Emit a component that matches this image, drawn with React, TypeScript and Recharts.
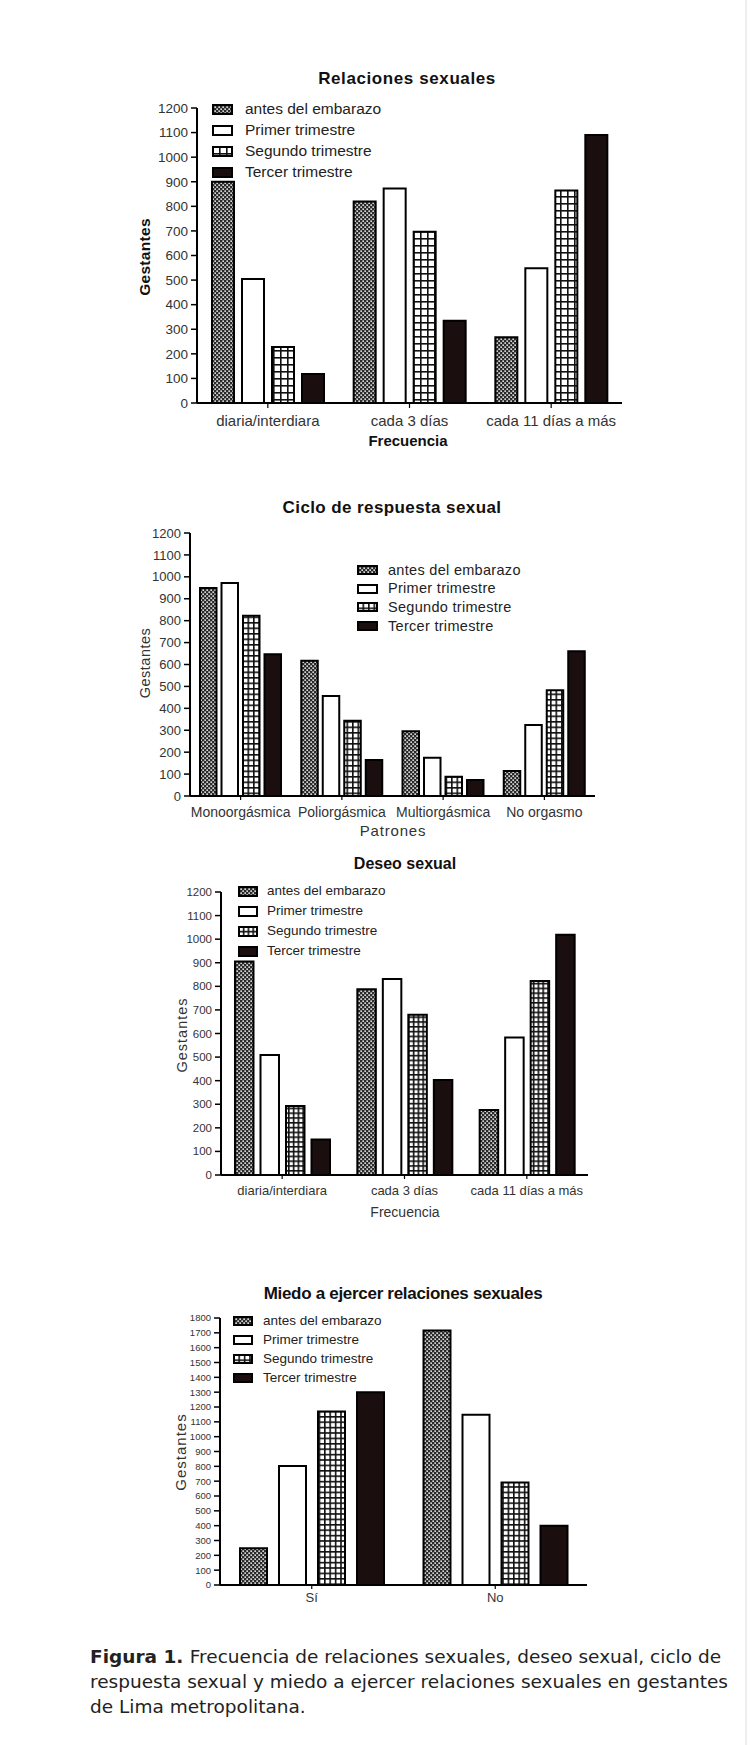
import React from 'react';
import { BarChart, Bar, XAxis, YAxis, Legend } from 'recharts';

const FONT = '"Liberation Sans", Arial, sans-serif';

const SERIES_KEYS = ['antes', 'primer', 'segundo', 'tercer'];
const SERIES_NAMES = ['antes del embarazo', 'Primer trimestre', 'Segundo trimestre', 'Tercer trimestre'];

const CATS_FRECUENCIA = ['diaria/interdiara', 'cada 3 días', 'cada 11 días a más'];
const CATS_PATRONES = ['Monoorgásmica', 'Poliorgásmica', 'Multiorgásmica', 'No orgasmo'];
const CATS_MIEDO = ['Sí', 'No'];

const TICKS_1200 = [0, 100, 200, 300, 400, 500, 600, 700, 800, 900, 1000, 1100, 1200];
const TICKS_1800 = [0, 100, 200, 300, 400, 500, 600, 700, 800, 900, 1000, 1100, 1200, 1300, 1400, 1500, 1600, 1700, 1800];

// Relaciones sexuales
const REL_ANTES = [900, 820, 267];
const REL_PRIMER = [504, 873, 548];
const REL_SEGUNDO = [228, 697, 864];
const REL_TERCER = [118, 335, 1090];

// Ciclo de respuesta sexual
const CIC_ANTES = [949, 617, 296, 114];
const CIC_PRIMER = [972, 456, 175, 324];
const CIC_SEGUNDO = [823, 343, 88, 483];
const CIC_TERCER = [647, 164, 73, 661];

// Deseo sexual
const DES_ANTES = [905, 788, 276];
const DES_PRIMER = [509, 831, 583];
const DES_SEGUNDO = [293, 679, 823];
const DES_TERCER = [151, 403, 1019];

// Miedo a ejercer relaciones sexuales
const MIE_ANTES = [248, 1715];
const MIE_PRIMER = [803, 1148];
const MIE_SEGUNDO = [1170, 691];
const MIE_TERCER = [1299, 400];

const CAPTION_LINES = [
  'Frecuencia de relaciones sexuales, deseo sexual, ciclo de',
  'respuesta sexual y miedo a ejercer relaciones sexuales en gestantes',
  'de Lima metropolitana.',
];

function rows(cats: string[], a: number[], b: number[], c: number[], d: number[]) {
  return cats.map((cat, i) => ({ cat, antes: a[i], primer: b[i], segundo: c[i], tercer: d[i] }));
}

function fillFor(key: string, id: string) {
  if (key === 'antes') return `url(#${id}-dots)`;
  if (key === 'segundo') return `url(#${id}-grid)`;
  if (key === 'tercer') return '#1a0e0e';
  return '#fff';
}

type TextCfg = { text: string; x: number; y: number; size: number; weight?: number; ls?: number };

type PanelCfg = {
  id: string;
  plotTop: number;
  plotBottom: number;
  plotLeft: number;
  plotRight: number;
  yMax: number;
  ticks: number[];
  yFont: number;
  barSize: number;
  barGap: number;
  grid: number;
  xFont: number;
  xTickSize: number;
  xTickMargin: number;
  title: TextCfg;
  yTitle: TextCfg;
  xTitle?: TextCfg;
  legX: number;
  legY: number;
  legRow: number;
  swW: number;
  swH: number;
  legGap: number;
  legFont: number;
  legLs?: number;
};

function Label({ t, rotate }: { t: TextCfg; rotate?: boolean }) {
  return (
    <div
      style={{
        position: 'absolute',
        left: t.x,
        top: t.y,
        transform: `translate(-50%, -50%)${rotate ? ' rotate(-90deg)' : ''}`,
        whiteSpace: 'nowrap',
        fontFamily: FONT,
        fontSize: t.size,
        fontWeight: t.weight ?? 400,
        letterSpacing: t.ls ?? 0,
        color: t.weight === 700 ? '#111' : '#333',
        lineHeight: 1,
      }}
    >
      {t.text}
    </div>
  );
}

function LegendBox({ cfg }: { cfg: PanelCfg }) {
  return (
    <div style={{ fontFamily: FONT }}>
      {SERIES_KEYS.map((k, i) => (
        <div key={k} style={{ display: 'flex', alignItems: 'center', height: cfg.legRow }}>
          <svg width={cfg.swW} height={cfg.swH} style={{ display: 'block' }}>
            <rect x={1} y={1} width={cfg.swW - 2} height={cfg.swH - 2} fill={fillFor(k, cfg.id)} stroke="#000" strokeWidth={2} />
          </svg>
          <span
            style={{
              marginLeft: cfg.legGap,
              fontSize: cfg.legFont,
              letterSpacing: cfg.legLs ?? 0,
              color: '#222',
              whiteSpace: 'nowrap',
              lineHeight: 1,
            }}
          >
            {SERIES_NAMES[i]}
          </span>
        </div>
      ))}
    </div>
  );
}

function Panel({ cfg, data }: { cfg: PanelCfg; data: any[] }) {
  const top = cfg.plotTop - 10;
  const height = cfg.plotBottom - cfg.plotTop + 50;
  const yw = 50;
  const g = cfg.grid;
  return (
    <>
      <div style={{ position: 'absolute', left: 0, top }}>
        <BarChart
          width={751}
          height={height}
          data={data}
          margin={{ top: 10, bottom: 10, left: cfg.plotLeft - yw, right: 751 - cfg.plotRight }}
          barGap={cfg.barGap}
          barSize={cfg.barSize}
          style={{ fontFamily: FONT }}
        >
          <defs>
            <pattern id={`${cfg.id}-dots`} width={4} height={4} patternUnits="userSpaceOnUse">
              <rect width={4} height={4} fill="#2a2a2a" />
              <rect x={0.4} y={0.4} width={1.5} height={1.5} fill="#fff" />
              <rect x={2.4} y={2.4} width={1.5} height={1.5} fill="#fff" />
            </pattern>
            <pattern id={`${cfg.id}-grid`} width={g} height={g} patternUnits="userSpaceOnUse">
              <rect width={g} height={g} fill="#fff" />
              <rect width={g} height={1.6} fill="#111" />
              <rect width={1.6} height={g} fill="#111" />
            </pattern>
          </defs>
          <XAxis
            dataKey="cat"
            interval={0}
            height={30}
            tickSize={cfg.xTickSize}
            tickMargin={cfg.xTickMargin}
            axisLine={{ stroke: '#000', strokeWidth: 2 }}
            tickLine={{ stroke: '#000', strokeWidth: 1.2 }}
            tick={{ fill: '#333', fontSize: cfg.xFont, fontFamily: FONT }}
          />
          <YAxis
            domain={[0, cfg.yMax]}
            ticks={cfg.ticks}
            interval={0}
            width={yw}
            tickSize={6}
            tickMargin={3}
            axisLine={{ stroke: '#000', strokeWidth: 2 }}
            tickLine={{ stroke: '#000', strokeWidth: 1.5 }}
            tick={{ fill: '#333', fontSize: cfg.yFont, fontFamily: FONT }}
          />
          <Legend
            layout="vertical"
            align="center"
            verticalAlign="middle"
            wrapperStyle={{
              left: cfg.legX,
              top: cfg.legY - cfg.legRow / 2 - top,
              width: 'auto',
              height: 'auto',
            }}
            content={() => <LegendBox cfg={cfg} />}
          />
          {SERIES_KEYS.map((k, i) => (
            <Bar
              key={k}
              dataKey={k}
              name={SERIES_NAMES[i]}
              fill={fillFor(k, cfg.id)}
              stroke="#000"
              strokeWidth={2}
              isAnimationActive={false}
            />
          ))}
        </BarChart>
      </div>
      <Label t={cfg.title} />
      <Label t={cfg.yTitle} rotate />
      {cfg.xTitle && <Label t={cfg.xTitle} />}
    </>
  );
}

const REL_CFG: PanelCfg = {
  id: 'rel', plotTop: 108, plotBottom: 403, plotLeft: 197, plotRight: 622,
  yMax: 1200, ticks: TICKS_1200, yFont: 13.5,
  barSize: 22, barGap: 8, grid: 7,
  xFont: 15, xTickSize: 5, xTickMargin: 7,
  title: { text: 'Relaciones sexuales', x: 407, y: 78, size: 17, weight: 700, ls: 0.6 },
  yTitle: { text: 'Gestantes', x: 145, y: 257, size: 15.5, weight: 700, ls: 0.3 },
  xTitle: { text: 'Frecuencia', x: 408, y: 440, size: 15, weight: 700 },
  legX: 212, legY: 109, legRow: 21, swW: 21, swH: 11, legGap: 12, legFont: 15.5,
};

const CIC_CFG: PanelCfg = {
  id: 'cic', plotTop: 533, plotBottom: 796, plotLeft: 190, plotRight: 595,
  yMax: 1200, ticks: TICKS_1200, yFont: 13,
  barSize: 16.5, barGap: 5, grid: 5.5,
  xFont: 14, xTickSize: 4, xTickMargin: 7,
  title: { text: 'Ciclo de respuesta sexual', x: 392, y: 507, size: 17, weight: 700, ls: 0.4 },
  yTitle: { text: 'Gestantes', x: 145, y: 663, size: 14.5, ls: 0.5 },
  xTitle: { text: 'Patrones', x: 393, y: 830, size: 15, ls: 0.8 },
  legX: 357, legY: 570, legRow: 18.7, swW: 21, swH: 10, legGap: 10, legFont: 14.5, legLs: 0.3,
};

const DES_CFG: PanelCfg = {
  id: 'des', plotTop: 892, plotBottom: 1175, plotLeft: 221, plotRight: 588,
  yMax: 1200, ticks: TICKS_1200, yFont: 11.5,
  barSize: 18.5, barGap: 7, grid: 4.8,
  xFont: 13, xTickSize: 4, xTickMargin: 7,
  title: { text: 'Deseo sexual', x: 405, y: 864, size: 16, weight: 700 },
  yTitle: { text: 'Gestantes', x: 182, y: 1035, size: 14.5, ls: 1 },
  xTitle: { text: 'Frecuencia', x: 405, y: 1212, size: 14 },
  legX: 238, legY: 891, legRow: 20, swW: 20, swH: 11, legGap: 9, legFont: 13.5,
};

const MIE_CFG: PanelCfg = {
  id: 'mie', plotTop: 1318, plotBottom: 1585, plotLeft: 220, plotRight: 587,
  yMax: 1800, ticks: TICKS_1800, yFont: 9.5,
  barSize: 27, barGap: 12, grid: 5.4,
  xFont: 13, xTickSize: 4, xTickMargin: 4,
  title: { text: 'Miedo a ejercer relaciones sexuales', x: 403, y: 1293, size: 17, weight: 700, ls: -0.3 },
  yTitle: { text: 'Gestantes', x: 180, y: 1452, size: 15, ls: 1 },
  legX: 233, legY: 1321, legRow: 19, swW: 20, swH: 10, legGap: 10, legFont: 13.5,
};

export default function App() {
  return (
    <div style={{ position: 'absolute', left: 0, top: 0, width: 751, height: 1745, background: '#fff', overflow: 'hidden' }}>
      <Panel cfg={REL_CFG} data={rows(CATS_FRECUENCIA, REL_ANTES, REL_PRIMER, REL_SEGUNDO, REL_TERCER)} />
      <Panel cfg={CIC_CFG} data={rows(CATS_PATRONES, CIC_ANTES, CIC_PRIMER, CIC_SEGUNDO, CIC_TERCER)} />
      <Panel cfg={DES_CFG} data={rows(CATS_FRECUENCIA, DES_ANTES, DES_PRIMER, DES_SEGUNDO, DES_TERCER)} />
      <Panel cfg={MIE_CFG} data={rows(CATS_MIEDO, MIE_ANTES, MIE_PRIMER, MIE_SEGUNDO, MIE_TERCER)} />
      <div
        style={{
          position: 'absolute',
          left: 90,
          top: 1644,
          fontFamily: '"DejaVu Sans", sans-serif',
          fontSize: 18.5,
          lineHeight: '25px',
          color: '#222',
          whiteSpace: 'nowrap',
        }}
      >
        {CAPTION_LINES.map((line, i) => (
          <div key={i}>
            {i === 0 && <span style={{ fontWeight: 700 }}>Figura 1. </span>}
            <span>{line}</span>
          </div>
        ))}
      </div>
      <div style={{ position: 'absolute', left: 745, top: 0, width: 2, height: 1745, background: '#eeeeee' }} />
    </div>
  );
}
